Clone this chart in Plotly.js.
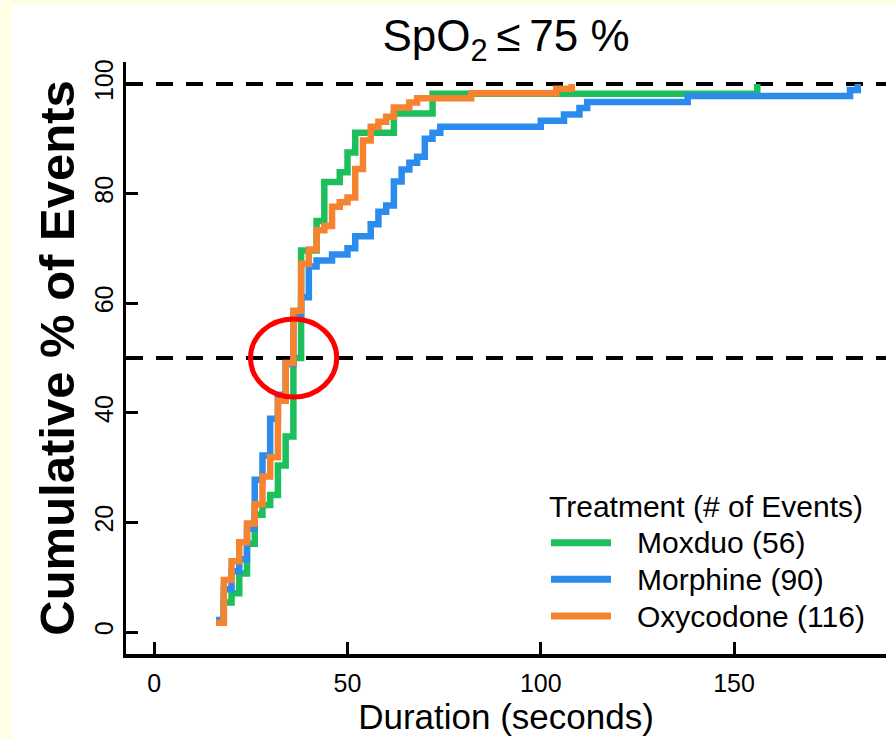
<!DOCTYPE html>
<html>
<head>
<meta charset="utf-8">
<script src="https://cdn.plot.ly/plotly-3.0.1.min.js"></script>
<style>
  html, body { margin: 0; padding: 0; background: #FFFDE6; }
  #chart { width: 895px; height: 739px; }
</style>
</head>
<body>
<div id="chart"></div>
<script>
// ---- Data (step curves: duration in s, cumulative %) ----
const moxduoX = [16, 18, 20, 22, 24, 26, 28, 30, 32, 34, 36, 38, 42, 44, 48, 50, 52, 62, 72, 156];
const moxduoY = [1.8, 5.4, 7.1, 10.7, 16.1, 21.4, 23.2, 25.0, 30.4, 35.7, 50.0, 69.6, 75.0, 82.1, 83.9, 87.5, 91.1, 94.6, 98.2, 100];

const morphineX = [16, 18, 20, 22, 24, 26, 28, 30, 32, 34, 36, 38, 40, 42, 46, 50, 52, 56, 58, 60, 62, 64, 66, 68, 70, 72, 74, 100, 106, 110, 112, 138, 180, 182];
const morphineY = [2.2, 7.8, 11.1, 13.3, 18.9, 27.8, 32.2, 38.9, 43.3, 48.9, 57.8, 61.1, 66.7, 67.8, 68.9, 70.0, 72.2, 74.4, 76.7, 77.8, 82.2, 84.4, 85.6, 86.7, 90.0, 91.1, 92.2, 93.3, 94.4, 95.6, 96.7, 97.8, 98.9, 100];

const oxycodoneX = [16, 18, 20, 22, 24, 26, 28, 30, 32, 34, 36, 38, 40, 42, 44, 46, 48, 50, 52, 54, 56, 58, 60, 62, 66, 68, 82, 104, 108];
const oxycodoneY = [1.7, 9.5, 12.9, 16.4, 19.8, 23.3, 28.4, 31.9, 42.2, 49.1, 58.6, 67.2, 69.8, 73.3, 74.1, 77.6, 78.4, 79.3, 84.5, 89.7, 92.2, 93.1, 94.0, 95.7, 96.6, 97.4, 98.3, 99.1, 100];

const seriesNames = ["Moxduo", "Morphine", "Oxycodone"];
const eventCounts = [56, 90, 116];
const seriesColors = ["#1DBF5C", "#2B8CEE", "#F5832F"];

const xTicks = [0, 50, 100, 150];
const yTicks = [0, 20, 40, 60, 80, 100];
const referenceLines = [50, 100];

// ---- Layout geometry (pixels) ----
const L = 126, R = 9, T = 62, B = 85, FW = 895, FH = 739;
const W = FW - L - R, H = FH - T - B;
const px2x = p => (p - L) / W;
const py2y = p => (T + H - p) / H;

const FONT = "Liberation Sans, Arial, Helvetica, sans-serif";

const xs = [moxduoX, morphineX, oxycodoneX];
const ys = [moxduoY, morphineY, oxycodoneY];

const traces = seriesNames.map((n, i) => ({
  type: "scatter",
  mode: "lines",
  name: n + " (" + eventCounts[i] + ")",
  x: xs[i],
  y: ys[i],
  line: { shape: "hv", color: seriesColors[i], width: 6.5 },
  showlegend: false,
  hoverinfo: "x+y+name"
}));

const shapes = [];
// white page area (cream border on top/left)
shapes.push({
  type: "rect", xref: "paper", yref: "paper", layer: "below",
  x0: px2x(12), x1: px2x(FW + 5), y0: py2y(FH + 5), y1: py2y(5),
  fillcolor: "white", line: { width: 0 }
});
// dashed reference lines
referenceLines.forEach(v => shapes.push({
  type: "line", xref: "paper", yref: "y", layer: "below",
  x0: 0, x1: 1, y0: v, y1: v,
  line: { color: "black", width: 4, dash: "17px,13px" }
}));
// red highlight ellipse
shapes.push({
  type: "circle", xref: "x", yref: "y", layer: "above",
  x0: 24.9, x1: 47.2, y0: 42.9, y1: 57.1,
  line: { color: "#FF0000", width: 5 }
});

const annotations = [];
// manual legend
annotations.push({
  xref: "paper", yref: "paper", x: px2x(547), y: py2y(506),
  xanchor: "left", yanchor: "middle", showarrow: false,
  text: "Treatment (# of Events)", font: { family: FONT, size: 30, color: "black" }
});
const legendY = [542.7, 579.3, 616];
seriesNames.forEach((n, i) => {
  shapes.push({
    type: "line", xref: "paper", yref: "paper", layer: "above",
    x0: px2x(551), x1: px2x(611), y0: py2y(legendY[i]), y1: py2y(legendY[i]),
    line: { color: seriesColors[i], width: 7 }
  });
  annotations.push({
    xref: "paper", yref: "paper", x: px2x(635), y: py2y(legendY[i]),
    xanchor: "left", yanchor: "middle", showarrow: false,
    text: n + " (" + eventCounts[i] + ")", font: { family: FONT, size: 30, color: "black" }
  });
});

const layout = {
  width: FW, height: FH,
  margin: { l: L, r: R, t: T, b: B, pad: 0 },
  paper_bgcolor: "#FFFDE6",
  plot_bgcolor: "white",
  font: { family: FONT, color: "black" },
  showlegend: false,
  title: {
    text: "SpO<sub>2</sub>\u2009≤\u200975 %",
    font: { family: FONT, size: 44, color: "black" },
    x: px2x(506), xref: "paper", xanchor: "center",
    y: 1 - 36 / FH, yref: "container", yanchor: "middle"
  },
  xaxis: {
    range: [-7.3, 189.3],
    showgrid: false, zeroline: false,
    showline: true, linecolor: "black", linewidth: 3.5,
    ticks: "inside", ticklen: 12, tickwidth: 3, tickcolor: "black",
    tickvals: xTicks, ticktext: xTicks.map(String),
    ticklabelstandoff: 4,
    tickfont: { family: FONT, size: 25, color: "black" },
    title: { text: "Duration (seconds)", font: { family: FONT, size: 35, color: "black" }, standoff: 8 }
  },
  yaxis: {
    range: [-4, 104],
    showgrid: false, zeroline: false,
    showline: true, linecolor: "black", linewidth: 3.5,
    ticks: "inside", ticklen: 12, tickwidth: 3, tickcolor: "black",
    tickvals: yTicks, ticktext: yTicks.map(String),
    tickangle: -90,
    tickfont: { family: FONT, size: 25, color: "black" },
    title: { text: "<b>Cumulative % of Events</b>", font: { family: FONT, size: 49, color: "black" }, standoff: 0 }
  },
  shapes: shapes,
  annotations: annotations
};

Plotly.newPlot("chart", traces, layout, { displayModeBar: false, staticPlot: true });
</script>
</body>
</html>
